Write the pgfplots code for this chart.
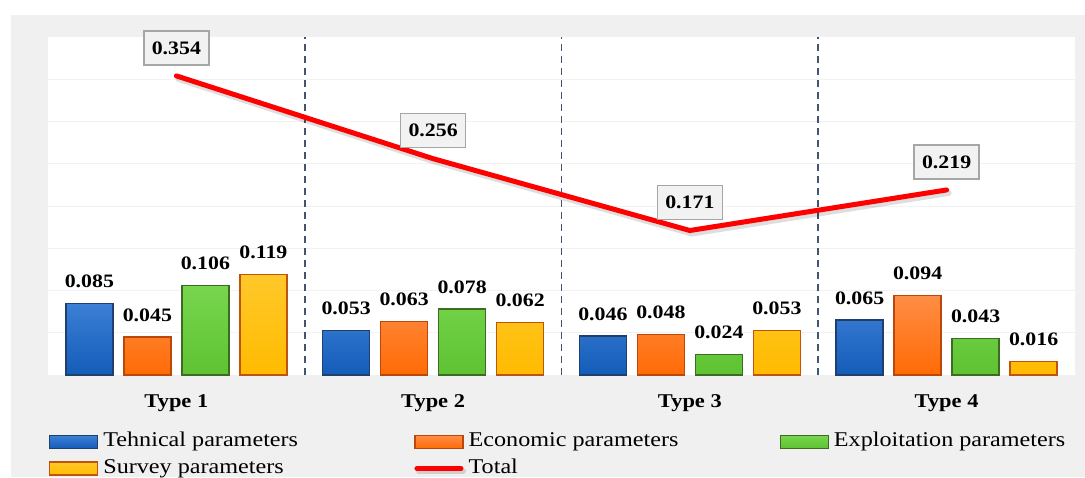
\documentclass[border=0pt]{standalone}
\usepackage{fontspec}
\setmainfont{Liberation Serif}[FakeStretch=1.15]
\usepackage{pgfplots}
\pgfplotsset{compat=1.18}
\definecolor{bgGray}{HTML}{F0F0F0}
\definecolor{gridC}{HTML}{F2F2F2}
\definecolor{sepC}{HTML}{44546A}
\definecolor{boxFill}{HTML}{F2F2F2}
\definecolor{boxDraw}{HTML}{A6A6A6}
\definecolor{blueT}{HTML}{3C7FD6}
\definecolor{blueB}{HTML}{135CB8}
\definecolor{blueD}{HTML}{1F3F6E}
\definecolor{orT}{HTML}{FF8D45}
\definecolor{orB}{HTML}{FF6B05}
\definecolor{orD}{HTML}{B9480A}
\definecolor{grT}{HTML}{78D64E}
\definecolor{grB}{HTML}{5EC232}
\definecolor{grD}{HTML}{3E6B22}
\definecolor{yeT}{HTML}{FFC82A}
\definecolor{yeB}{HTML}{FFBB00}
\definecolor{yeD}{HTML}{C0530E}
\pgfplotsset{
  barlegend/.style={legend image code/.code={\draw[##1, line width=1.3pt] (0pt,-6.5pt) rectangle (48pt,6.5pt);}},
  mybar/.style={ybar, bar width=47pt, bar shift=#1, line width=1.3pt, nodes near coords,
    every node near coord/.append style={xshift=#1}, barlegend},
}
\begin{document}
\begin{tikzpicture}[x=1pt,y=1pt]
\fill[white] (0,0) rectangle (1085,477);
\fill[bgGray] (11,0) rectangle (1085,462);
\useasboundingbox (0,0) rectangle (1085,477);
\begin{axis}[
  at={(48pt,102pt)}, anchor=south west,
  width=1027pt, height=338pt, scale only axis,
  xmin=-0.5, xmax=3.5, ymin=0, ymax=0.4,
  axis background/.style={fill=white},
  axis line style={draw=none},
  tick style={draw=none},
  ytick={0.05,0.1,0.15,0.2,0.25,0.3,0.35},
  yticklabels={},
  ymajorgrids,
  major grid style={draw=gridC, line width=1pt},
  xtick={0,1,2,3},
  xticklabels={Type 1,Type 2,Type 3,Type 4},
  xticklabel style={font=\bfseries\fontsize{19.5}{22}\selectfont, anchor=base, inner sep=0pt, yshift=-32pt},
  extra x ticks={0.5,1.5,2.5},
  extra x tick labels={},
  extra x tick style={grid=major, major grid style={draw=sepC, dash pattern=on 7pt off 5pt, line width=1.6pt}},
  clip=false,
  /pgf/number format/.cd, fixed, zerofill, precision=3, assume math mode=true, /pgfplots/.cd,
  nodes near coords style={font=\bfseries\fontsize{19}{22}\selectfont, anchor=south, inner sep=0pt, yshift=15pt, text=black},
  legend columns=3,
  legend cell align=left,
  legend style={at={(rel axis cs:0.001,-0.1686)}, anchor=north west, draw=none, fill=none,
    inner sep=0pt, outer sep=0pt, row sep=6.5pt,
    font=\fontsize{21}{24}\selectfont,
    nodes={inner xsep=0pt, inner ysep=0pt, text height=15pt, text depth=5pt},
    /tikz/every odd column/.style={column sep=5pt}},
]
\addplot[mybar=-87pt, draw=blueD, top color=blueT, bottom color=blueB]
  coordinates {(0,0.085) (1,0.053) (2,0.046) (3,0.065)};
\addlegendentry{\makebox[311pt][l]{Tehnical parameters}}
\addplot[mybar=-29pt, draw=orD, top color=orT, bottom color=orB]
  coordinates {(0,0.045) (1,0.063) (2,0.048) (3,0.094)};
\addlegendentry{\makebox[311pt][l]{Economic parameters}}
\addplot[mybar=29pt, draw=grD, top color=grT, bottom color=grB]
  coordinates {(0,0.106) (1,0.078) (2,0.024) (3,0.043)};
\addlegendentry{Exploitation parameters}
\addplot[mybar=87pt, draw=yeD, top color=yeT, bottom color=yeB]
  coordinates {(0,0.119) (1,0.062) (2,0.053) (3,0.016)};
\addlegendentry{\makebox[311pt][l]{Survey parameters}}
\addplot[sharp plot, draw=red, line width=5pt, line cap=round, line join=miter, no markers,
  preaction={draw=black, opacity=0.13, line width=6pt, transform canvas={xshift=2pt, yshift=-3pt}},
  nodes near coords,
  every node near coord/.style={font=\bfseries\fontsize{19}{22}\selectfont, anchor=center, yshift=28pt,
     fill=boxFill, draw=boxDraw, line width=1.5pt, inner xsep=8pt, minimum height=34pt, text=black, opacity=1},
  legend image code/.code={\draw[red, line width=5pt, line cap=round] (2pt,0pt) -- (46pt,0pt);}]
  coordinates {(0,0.354) (1,0.256) (2,0.171) (3,0.219)};
\addlegendentry{Total}
\end{axis}
\end{tikzpicture}
\end{document}
